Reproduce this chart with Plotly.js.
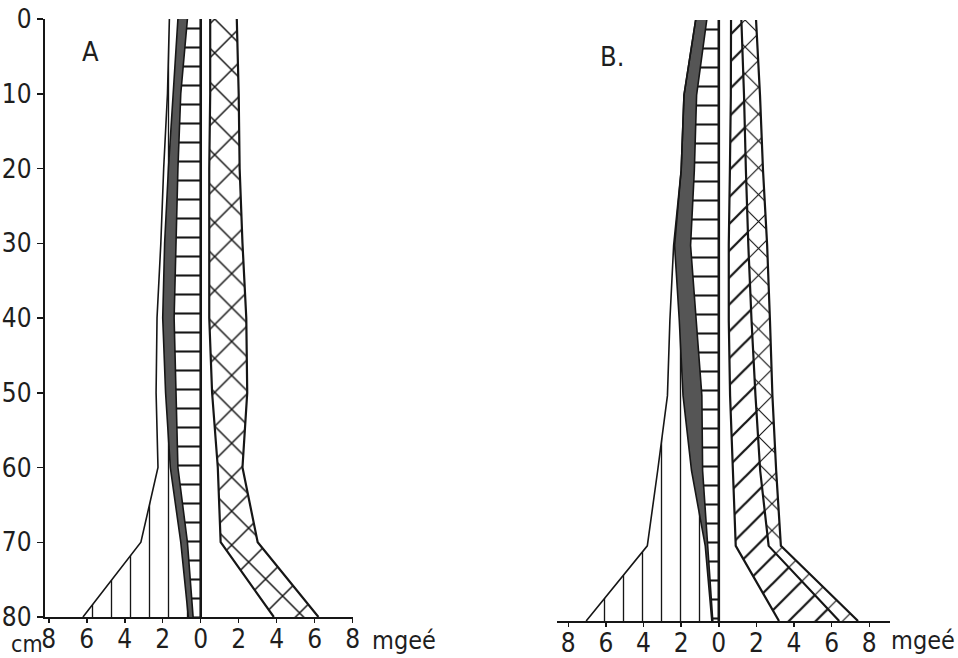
<!DOCTYPE html>
<html>
<head>
<meta charset="utf-8">
<script src="https://cdn.plot.ly/plotly-3.0.1.min.js"></script>
<style>html,body{margin:0;padding:0;background:#fff;}#chart{width:958px;height:658px;}</style>
</head>
<body>
<div id="chart"></div>
<script>
// Depth of the soil profile (cm)
const depth = [0, 10, 20, 30, 40, 50, 60, 70, 80];

// Tick labels
const xTickVals = [-8, -6, -4, -2, 0, 2, 4, 6, 8];
const xTickText = ["8", "6", "4", "2", "0", "2", "4", "6", "8"];
const yTickVals = [0, 10, 20, 30, 40, 50, 60, 70, 80];
const yTickText = ["0", "10", "20", "30", "40", "50", "60", "70", "80"];

// Profile A (mgeé), left side stacked from 0 outward
const A_hline = [0.7, 1.05, 1.2, 1.3, 1.4, 1.3, 1.2, 0.7, 0.4];      // horizontal hatch
const A_dark  = [0.5, 0.4, 0.5, 0.6, 0.6, 0.55, 0.4, 0.35, 0.25];    // dark band
const A_vline = [0.45, 0.3, 0.25, 0.2, 0.3, 0.5, 0.65, 2.1, 5.55];   // vertical hatch
// Profile A, right side stacked from 0 outward
const A_gap   = [0.5, 0.5, 0.45, 0.45, 0.45, 0.6, 0.9, 1.05, 3.85];  // blank
const A_cross = [1.4, 1.5, 1.6, 1.75, 1.95, 1.85, 1.3, 1.95, 2.35];  // cross hatch

// Profile B (mgeé), left side
const B_hline = [0.64, 1.18, 1.3, 1.5, 1.2, 0.9, 0.86, 0.6, 0.32];
const B_dark  = [0.59, 0.67, 0.7, 0.85, 0.9, 1.0, 0.59, 0.12, 0.05];
const B_vline = [0, 0, 0, 0.05, 0.5, 0.83, 1.8, 3.08, 6.68];
// Profile B, right side
const B_gap   = [0.65, 0.64, 0.59, 0.53, 0.53, 0.6, 0.75, 0.9, 3.2];
const B_diag  = [0.55, 0.7, 0.85, 1.04, 1.21, 1.35, 1.45, 1.75, 3.2];
const B_cross = [0.78, 0.85, 0.91, 1.0, 0.98, 0.9, 0.85, 0.65, 1.0];

// ---- helpers ----
function cumulate(list, sign) {
  const out = [];
  let acc = depth.map(() => 0);
  out.push(acc.slice());
  list.forEach(arr => {
    acc = acc.map((v, i) => v + sign * arr[i]);
    out.push(acc.slice());
  });
  return out;
}
const INK = '#161616';
function band(xa, ya, inner, outer, style) {
  const t = {
    x: inner.concat(outer.slice().reverse()),
    y: depth.concat(depth.slice().reverse()),
    xaxis: xa, yaxis: ya, mode: 'none', fill: 'toself',
    hoverinfo: 'skip', showlegend: false
  };
  if (style.pattern) {
    t.fillcolor = '#ffffff';
    t.fillpattern = {shape: style.pattern, size: style.size, solidity: style.solidity,
                     fgcolor: INK, bgcolor: '#ffffff', fillmode: 'replace'};
  } else {
    t.fillcolor = style.color;
  }
  return t;
}
function edge(xa, ya, xs, w) {
  return {x: xs, y: depth, xaxis: xa, yaxis: ya, mode: 'lines',
          line: {color: INK, width: w}, hoverinfo: 'skip', showlegend: false};
}

const traces = [];
function panel(xa, ya, hl, dk, vl, rightParts, rightStyles) {
  const L = cumulate([hl, dk, vl], -1);
  const R = cumulate(rightParts, 1);
  traces.push(band(xa, ya, L[0], L[1], {pattern: '-', size: 19, solidity: 0.11}));
  traces.push(band(xa, ya, L[1], L[2], {color: '#555555'}));
  traces.push(band(xa, ya, L[2], L[3], {pattern: '|', size: 19, solidity: 0.07}));
  for (let k = 2; k < R.length; k++) {
    traces.push(band(xa, ya, R[k - 1], R[k], rightStyles[k - 1]));
  }
  traces.push(edge(xa, ya, L[1], 1.6));
  traces.push(edge(xa, ya, L[2], 1.6));
  traces.push(edge(xa, ya, L[3], 1.6));
  for (let k = 1; k < R.length; k++) traces.push(edge(xa, ya, R[k], 2.2));
  traces.push(edge(xa, ya, L[0], 2.6)); // zero line
}

panel('x', 'y', A_hline, A_dark, A_vline, [A_gap, A_cross],
      [null, {pattern: 'x', size: 24, solidity: 0.12}]);
panel('x2', 'y2', B_hline, B_dark, B_vline, [B_gap, B_diag, B_cross],
      [null, {pattern: '/', size: 19, solidity: 0.12}, {pattern: 'x', size: 19, solidity: 0.12}]);

const FONT = 'DejaVu Sans Condensed, Liberation Sans Narrow, sans-serif';
const tickFont = {family: FONT, size: 26, color: '#1e1e1e'};
function xAxis(domain, range, anchor) {
  return {domain: domain, range: range, anchor: anchor, tickvals: xTickVals, ticktext: xTickText,
          ticks: 'outside', ticklen: 4, tickwidth: 1.5, tickcolor: INK, ticklabelstandoff: -6,
          showline: true, linewidth: 2.2, linecolor: INK, showgrid: false, zeroline: false,
          tickfont: tickFont, fixedrange: true};
}

const layout = {
  width: 958, height: 658,
  margin: {l: 0, r: 0, t: 0, b: 0},
  paper_bgcolor: '#ffffff', plot_bgcolor: 'rgba(0,0,0,0)',
  showlegend: false,
  xaxis: xAxis([45 / 958, 353 / 958], [-8.2, 8.02], 'y'),
  yaxis: {domain: [1 - 617 / 658, 1 - 19 / 658], range: [80, 0], anchor: 'x',
          tickvals: yTickVals, ticktext: yTickText, ticks: 'outside', ticklen: 6, tickwidth: 1.5,
          tickcolor: INK, showline: true, linewidth: 2.2, linecolor: INK,
          showgrid: false, zeroline: false, tickfont: tickFont, fixedrange: true},
  xaxis2: xAxis([557 / 958, 890 / 958], [-8.6, 9.1], 'y2'),
  yaxis2: {domain: [1 - 621 / 658, 1 - 20 / 658], range: [80, 0], anchor: 'x2',
           showline: false, showticklabels: false, ticks: '', showgrid: false, zeroline: false,
           fixedrange: true},
  annotations: [
    {text: 'A', xref: 'paper', yref: 'paper', x: 90 / 958, y: 1 - 52 / 658,
     xanchor: 'center', yanchor: 'middle',
     showarrow: false, borderpad: 0, font: {family: FONT, size: 27, color: '#1e1e1e'}},
    {text: 'B.', xref: 'paper', yref: 'paper', x: 612 / 958, y: 1 - 57 / 658,
     xanchor: 'center', yanchor: 'middle',
     showarrow: false, borderpad: 0, font: {family: FONT, size: 27, color: '#1e1e1e'}},
    {text: 'cm', xref: 'paper', yref: 'paper', x: 27 / 958, y: 1 - 644 / 658,
     xanchor: 'center', yanchor: 'middle', showarrow: false, borderpad: 0,
     font: {family: FONT, size: 23, color: '#1e1e1e'}},
    {text: 'mgeé', xref: 'paper', yref: 'paper', x: 404 / 958, y: 1 - 640 / 658,
     xanchor: 'center', yanchor: 'middle',
     showarrow: false, borderpad: 0, font: {family: FONT, size: 25, color: '#1e1e1e'}},
    {text: 'mgeé', xref: 'paper', yref: 'paper', x: 923 / 958, y: 1 - 640 / 658,
     xanchor: 'center', yanchor: 'middle',
     showarrow: false, borderpad: 0, font: {family: FONT, size: 25, color: '#1e1e1e'}}
  ]
};

Plotly.newPlot('chart', traces, layout, {staticPlot: true, displayModeBar: false});
</script>
</body>
</html>
